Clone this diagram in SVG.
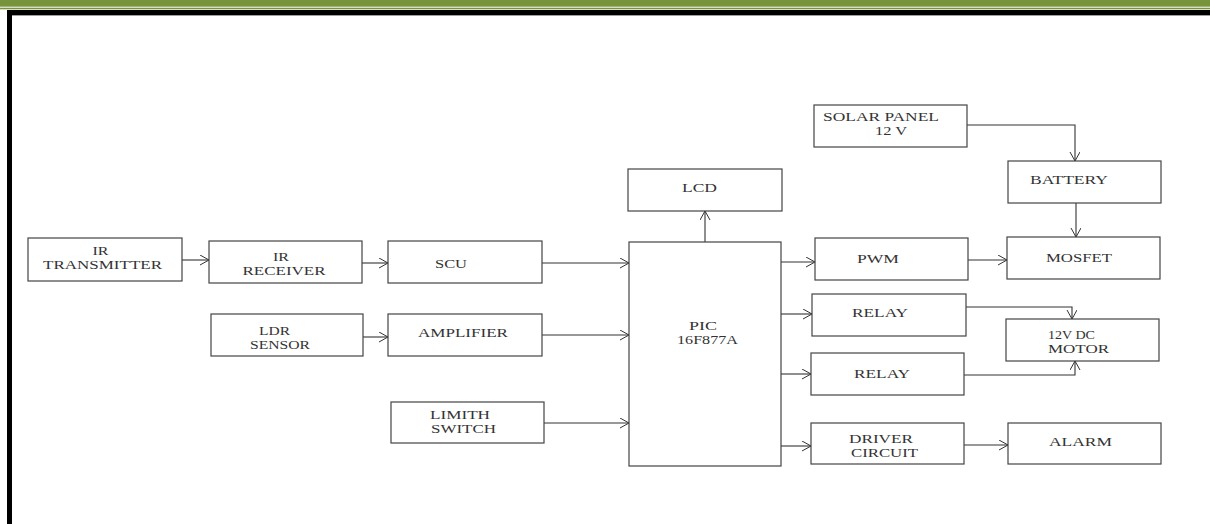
<svg xmlns="http://www.w3.org/2000/svg" width="1210" height="524" viewBox="0 0 1210 524">
<style>
.box{fill:#fff;stroke:#444;stroke-width:1.2}
.t{font-family:"Liberation Serif","Times New Roman",serif;font-size:13px;fill:#333;text-anchor:middle}
.c{fill:none;stroke:#333;stroke-width:1.1}
</style>
<defs>
<marker id="ah" markerUnits="userSpaceOnUse" markerWidth="12" markerHeight="12" refX="9" refY="5" orient="auto">
<path d="M0,0 L9,5 L0,10" fill="none" stroke="#333" stroke-width="1"/>
</marker>
</defs>
<rect width="1210" height="524" fill="#fff"/>
<g id="frame">
<rect x="0" y="0" width="1210" height="6.7" fill="#77933c"/>
<rect x="0" y="7.7" width="1210" height="1.6" fill="#77933c"/>
<rect x="7" y="10" width="1203" height="5" fill="#000"/>
<rect x="7" y="15" width="1203" height="0.8" fill="#888"/>
<rect x="7" y="10" width="5" height="514" fill="#000"/>
</g>
<g id="connectors">
<path class="c" d="M182,260 H209" marker-end="url(#ah)"/>
<path class="c" d="M362,263 H388" marker-end="url(#ah)"/>
<path class="c" d="M363,337 H388" marker-end="url(#ah)"/>
<path class="c" d="M542,263 H629" marker-end="url(#ah)"/>
<path class="c" d="M542,335 H629" marker-end="url(#ah)"/>
<path class="c" d="M544,423 H629" marker-end="url(#ah)"/>
<path class="c" d="M705,242 V211" marker-end="url(#ah)"/>
<path class="c" d="M781,262 H815" marker-end="url(#ah)"/>
<path class="c" d="M781,314 H812" marker-end="url(#ah)"/>
<path class="c" d="M781,374 H811" marker-end="url(#ah)"/>
<path class="c" d="M781,446 H811" marker-end="url(#ah)"/>
<path class="c" d="M967,125 H1075 V161" marker-end="url(#ah)"/>
<path class="c" d="M1076,203 V237" marker-end="url(#ah)"/>
<path class="c" d="M968,260 H1007" marker-end="url(#ah)"/>
<path class="c" d="M966,307 H1072 V319" marker-end="url(#ah)"/>
<path class="c" d="M964,375 H1075 V361" marker-end="url(#ah)"/>
<path class="c" d="M964,445 H1008" marker-end="url(#ah)"/>
</g>
<g id="ir-transmitter">
<rect class="box" x="28" y="238" width="154" height="43"/>
<text class="t" x="100.5" y="255" textLength="16" lengthAdjust="spacingAndGlyphs">IR</text>
<text class="t" x="102.5" y="269" textLength="119" lengthAdjust="spacingAndGlyphs">TRANSMITTER</text>
</g>
<g id="ir-receiver">
<rect class="box" x="209" y="241" width="153" height="42"/>
<text class="t" x="281" y="261" textLength="16" lengthAdjust="spacingAndGlyphs">IR</text>
<text class="t" x="284" y="275" textLength="83" lengthAdjust="spacingAndGlyphs">RECEIVER</text>
</g>
<g id="ldr-sensor">
<rect class="box" x="211" y="314" width="152" height="42"/>
<text class="t" x="274.5" y="335" textLength="31" lengthAdjust="spacingAndGlyphs">LDR</text>
<text class="t" x="280" y="349" textLength="60" lengthAdjust="spacingAndGlyphs">SENSOR</text>
</g>
<g id="scu">
<rect class="box" x="388" y="241" width="154" height="42"/>
<text class="t" x="451" y="268" textLength="32" lengthAdjust="spacingAndGlyphs">SCU</text>
</g>
<g id="amplifier">
<rect class="box" x="388" y="314" width="154" height="42"/>
<text class="t" x="463" y="337" textLength="90" lengthAdjust="spacingAndGlyphs">AMPLIFIER</text>
</g>
<g id="limith-switch">
<rect class="box" x="391" y="402" width="153" height="41"/>
<text class="t" x="460" y="419" textLength="60" lengthAdjust="spacingAndGlyphs">LIMITH</text>
<text class="t" x="463.5" y="433" textLength="65" lengthAdjust="spacingAndGlyphs">SWITCH</text>
</g>
<g id="pic">
<rect class="box" x="629" y="242" width="152" height="224"/>
<text class="t" x="703" y="330" textLength="28" lengthAdjust="spacingAndGlyphs">PIC</text>
<text class="t" x="707.5" y="344" textLength="61" lengthAdjust="spacingAndGlyphs">16F877A</text>
</g>
<g id="lcd">
<rect class="box" x="628" y="169" width="154" height="42"/>
<text class="t" x="699.5" y="192" textLength="35" lengthAdjust="spacingAndGlyphs">LCD</text>
</g>
<g id="solar-panel">
<rect class="box" x="814" y="105" width="153" height="42"/>
<text class="t" x="881" y="121" textLength="116" lengthAdjust="spacingAndGlyphs">SOLAR PANEL</text>
<text class="t" x="891" y="135" textLength="32" lengthAdjust="spacingAndGlyphs">12 V</text>
</g>
<g id="battery">
<rect class="box" x="1008" y="161" width="153" height="42"/>
<text class="t" x="1069" y="184" textLength="78" lengthAdjust="spacingAndGlyphs">BATTERY</text>
</g>
<g id="pwm">
<rect class="box" x="815" y="238" width="153" height="42"/>
<text class="t" x="878" y="263" textLength="42" lengthAdjust="spacingAndGlyphs">PWM</text>
</g>
<g id="mosfet">
<rect class="box" x="1007" y="237" width="153" height="42"/>
<text class="t" x="1079" y="262" textLength="66" lengthAdjust="spacingAndGlyphs">MOSFET</text>
</g>
<g id="relay1">
<rect class="box" x="812" y="294" width="154" height="42"/>
<text class="t" x="880" y="317" textLength="56" lengthAdjust="spacingAndGlyphs">RELAY</text>
</g>
<g id="motor">
<rect class="box" x="1006" y="319" width="153" height="42"/>
<text class="t" x="1071.5" y="339" textLength="47" lengthAdjust="spacingAndGlyphs">12V DC</text>
<text class="t" x="1078.5" y="353" textLength="61" lengthAdjust="spacingAndGlyphs">MOTOR</text>
</g>
<g id="relay2">
<rect class="box" x="811" y="353" width="153" height="42"/>
<text class="t" x="882" y="378" textLength="56" lengthAdjust="spacingAndGlyphs">RELAY</text>
</g>
<g id="driver-circuit">
<rect class="box" x="811" y="423" width="153" height="41"/>
<text class="t" x="881" y="443" textLength="64" lengthAdjust="spacingAndGlyphs">DRIVER</text>
<text class="t" x="884.5" y="457" textLength="67" lengthAdjust="spacingAndGlyphs">CIRCUIT</text>
</g>
<g id="alarm">
<rect class="box" x="1008" y="423" width="153" height="41"/>
<text class="t" x="1080.5" y="446" textLength="63" lengthAdjust="spacingAndGlyphs">ALARM</text>
</g>
</svg>
